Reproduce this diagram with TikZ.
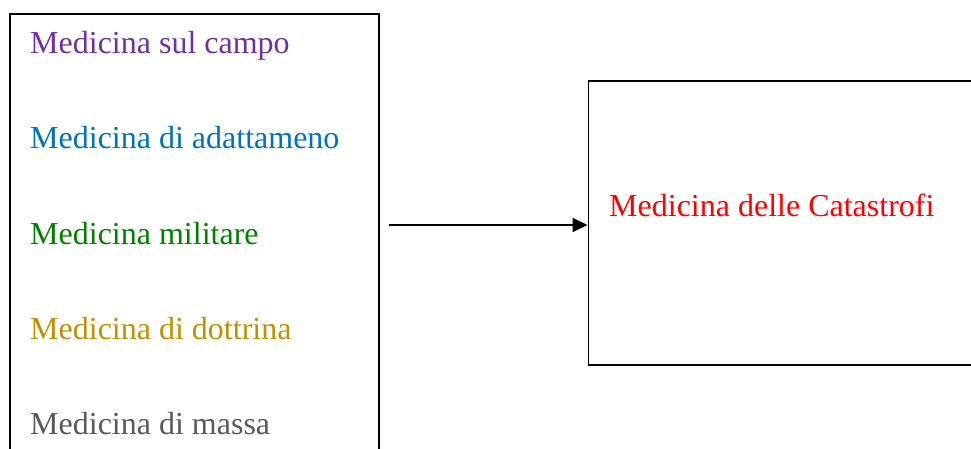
\documentclass[tikz,border=0pt]{standalone}
\usepackage{fontspec}
\setmainfont{Liberation Serif}
\usetikzlibrary{arrows.meta}
\definecolor{cpurple}{HTML}{7030A0}
\definecolor{cblue}{HTML}{0070C0}
\definecolor{cgreen}{HTML}{008000}
\definecolor{cgold}{HTML}{BF9000}
\definecolor{cgray}{HTML}{595959}
\definecolor{cred}{HTML}{FF0000}
\begin{document}
\begin{tikzpicture}[x=1pt,y=1pt,
  frame/.style={draw=black,line width=1.8pt,inner sep=0pt,anchor=north west},
  label/.style={anchor=base west,inner sep=0pt,font=\fontsize{32}{38}\selectfont},
  link/.style={line width=1.8pt,-{Triangle[length=15pt,width=14pt]}}]
  \useasboundingbox (0,0) rectangle (971,-449);
  \clip (0,0) rectangle (971,-449);
  % left frame (continues below the page)
  \node[frame,minimum width=369pt,minimum height=460pt] (left) at (9,-13) {};
  % right frame (continues beyond the right edge)
  \node[frame,minimum width=400pt,minimum height=283.5pt] (right) at (587.5,-80.5) {};
  % source items
  \node[label,text=cpurple] (t1) at (30,-54)  {Medicina sul campo};
  \node[label,text=cblue]   (t2) at (30,-149) {Medicina di adattameno};
  \node[label,text=cgreen]  (t3) at (30,-244) {Medicina militare};
  \node[label,text=cgold]   (t4) at (30,-339) {Medicina di dottrina};
  \node[label,text=cgray]   (t5) at (30,-434) {Medicina di massa};
  % target
  \node[label,text=cred]    (t6) at (609,-216) {Medicina delle Catastrofi};
  % connector
  \coordinate (start) at (389,-225);
  \draw[link] (start) -- (start -| right.west);
\end{tikzpicture}
\end{document}
